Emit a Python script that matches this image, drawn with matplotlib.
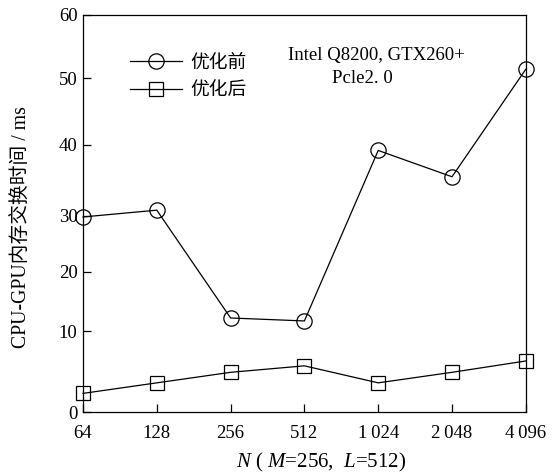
import numpy as np
import matplotlib
matplotlib.use("Agg")
import matplotlib.pyplot as plt

# ---- data ----
categories = ["64", "128", "256", "512", "1\u2009024", "2\u2009048", "4\u2009096"]
before = [29.8, 30.8, 12.2, 11.7, 39.2, 35.5, 51.4]
after = [2.3, 3.6, 4.9, 5.7, 3.6, 4.9, 6.3]
ytick_values = [0, 10, 20, 30, 40, 50, 60]
series_labels = ["优化前", "优化后"]
ylabel = "CPU-GPU内存交换时间 / ms"
note1 = "Intel Q8200, GTX260+"
note2 = "Pcle2. 0"

# ---- non-uniform (hand drawn) axis: fraction of axis height for each tick ----
tick_frac = np.array([0.0, 0.204, 0.353, 0.494, 0.673, 0.841, 1.0])
tv = np.array(ytick_values, dtype=float)

def fwd(v):
    return np.interp(v, tv, tick_frac)

def inv(f):
    return np.interp(f, tick_frac, tv)

plt.rcParams['font.family'] = ['Liberation Serif', 'Noto Sans CJK SC', 'DejaVu Serif']
plt.rcParams['mathtext.fontset'] = 'custom'
plt.rcParams['mathtext.it'] = 'Liberation Serif:italic'
plt.rcParams['mathtext.rm'] = 'Liberation Serif'

fig = plt.figure(figsize=(5.57, 4.75), dpi=100)
ax = fig.add_axes([0.149, 0.1326, 0.795, 0.836])
ax.set_yscale('function', functions=(fwd, inv))

x = np.arange(len(categories))
lw = 0.9
ax.plot(x, before, color='black', lw=lw, marker='o', ms=11, mfc='none',
        mec='black', mew=0.9, clip_on=False, label=series_labels[0], zorder=3)
ax.plot(x, after, color='black', lw=lw, marker='s', ms=10, mfc='none',
        mec='black', mew=0.9, clip_on=False, label=series_labels[1], zorder=3)

ax.set_xlim(0, len(categories) - 1)
ax.set_ylim(0, 60)
ax.set_xticks(x)
ax.set_xticklabels(categories)
ax.set_yticks(ytick_values)
ax.set_yticklabels([str(v) for v in ytick_values])
ax.minorticks_off()

ax.tick_params(axis='both', direction='in', length=6, width=0.9, labelsize=13.5)
ax.tick_params(axis='y', pad=4)
ax.tick_params(axis='x', pad=9)
for s in ax.spines.values():
    s.set_linewidth(0.9)

ax.set_xlabel(r'$N$ ( $M$=256,  $L$=512)', fontsize=15)
ax.xaxis.set_label_coords(0.537, -0.098)
ax.set_ylabel(ylabel, fontsize=14.2)
ax.yaxis.set_label_coords(-0.117, 0.466)

leg = ax.legend(loc='upper left', bbox_to_anchor=(0.106, 0.9), frameon=False,
                fontsize=13.5, handlelength=2.8, handletextpad=0.4,
                labelspacing=0.55, borderpad=0, borderaxespad=0)

ax.text(0.463, 0.899, note1, transform=ax.transAxes, fontsize=13.5,
        ha='left', va='center')
ax.text(0.562, 0.841, note2, transform=ax.transAxes, fontsize=13.5,
        ha='left', va='center')

fig.savefig("out.png", dpi=100)
